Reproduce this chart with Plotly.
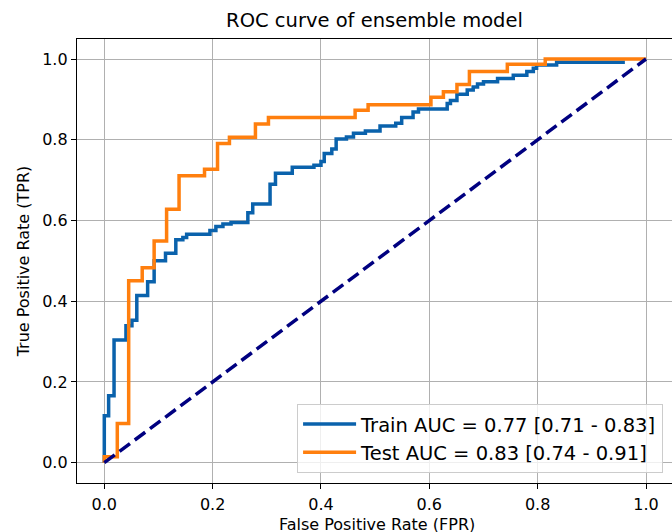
import plotly.graph_objects as go

# Train ROC (step corners: x where the rise happens, level after rise)
train_fpr = [0, 0, 0.008, 0.018, 0.040, 0.051, 0.060, 0.080, 0.092, 0.113, 0.132, 0.145,
             0.152, 0.195, 0.206, 0.219, 0.234, 0.265, 0.274, 0.306, 0.316, 0.347, 0.387,
             0.400, 0.406, 0.420, 0.428, 0.447, 0.460, 0.482, 0.509, 0.538, 0.549, 0.570,
             0.580, 0.633, 0.639, 0.651, 0.670, 0.681, 0.689, 0.700, 0.726, 0.755, 0.780,
             0.792, 0.798, 0.835, 0.961]
train_tpr = [0, 0.116, 0.166, 0.304, 0.339, 0.353, 0.414, 0.448, 0.500, 0.519, 0.552, 0.558,
             0.566, 0.575, 0.585, 0.591, 0.595, 0.619, 0.641, 0.690, 0.717, 0.732, 0.737,
             0.746, 0.766, 0.777, 0.802, 0.807, 0.816, 0.822, 0.834, 0.841, 0.855, 0.869,
             0.876, 0.890, 0.897, 0.913, 0.923, 0.931, 0.938, 0.944, 0.952, 0.960, 0.969,
             0.977, 0.985, 0.992, 0.992]

test_fpr = [0, 0, 0.024, 0.045, 0.070, 0.092, 0.115, 0.138, 0.185, 0.209, 0.231, 0.279,
            0.303, 0.463, 0.487, 0.603, 0.626, 0.651, 0.674, 0.744, 0.814, 1.0]
test_tpr = [0, 0.015, 0.097, 0.451, 0.483, 0.549, 0.628, 0.711, 0.727, 0.791, 0.806, 0.839,
            0.855, 0.873, 0.887, 0.905, 0.919, 0.937, 0.969, 0.987, 1.0, 1.0]

chance_x = [0, 1]
chance_y = [0, 1]

train_label = "Train AUC = 0.77 [0.71 - 0.83]"
test_label = "Test AUC = 0.83 [0.74 - 0.91]"
x_title = "False Positive Rate (FPR)"
y_title = "True Positive Rate (TPR)"
tick_vals = [0.0, 0.2, 0.4, 0.6, 0.8, 1.0]

FONT = "DejaVu Sans"

fig = go.Figure()
fig.add_trace(go.Scatter(x=train_fpr, y=train_tpr, mode="lines", line_shape="hv",
                         line=dict(color="#0a62ac", width=3.5), name=train_label,
                         legendgroup="a"))
fig.add_trace(go.Scatter(x=test_fpr, y=test_tpr, mode="lines", line_shape="hv",
                         line=dict(color="#ff7f0e", width=3.5), name=test_label,
                         legendgroup="b"))
fig.add_trace(go.Scatter(x=chance_x, y=chance_y, mode="lines",
                         line=dict(color="#000080", width=3.5, dash="13px,6px"),
                         showlegend=False))

fig.update_layout(
    width=672, height=532,
    margin=dict(l=77, r=0, t=39, b=49, autoexpand=False),
    paper_bgcolor="white", plot_bgcolor="white",
    font=dict(family=FONT, size=16, color="black"),
    title=dict(text="ROC curve of ensemble model", x=0.5, xref="paper", xanchor="center",
               y=1 - 20 / 532, yref="container", yanchor="middle",
               font=dict(family=FONT, size=19.5, color="black")),
    legend=dict(x=0.985, y=0.023, xanchor="right", yanchor="bottom",
                bgcolor="rgba(255,255,255,0.8)", bordercolor="#cccccc", borderwidth=1,
                font=dict(family=FONT, size=19.5, color="black"),
                itemwidth=53,
                traceorder="grouped", tracegroupgap=0),
)
# x-axis title placed as annotation, just below the tick labels (partly clipped like the original)
fig.add_annotation(text=x_title, xref="paper", yref="paper", x=0.5035, y=-41 / 444,
                   xanchor="center", yanchor="middle", showarrow=False,
                   font=dict(family=FONT, size=16, color="black"))
fig.update_xaxes(range=[-0.0504, 1.048], tickvals=tick_vals, tickformat=".1f",
                 automargin=False,
                 showgrid=True, gridcolor="#b0b0b0", gridwidth=1.3,
                 showline=True, linecolor="black", linewidth=1.3, mirror=True,
                 ticks="outside", ticklen=5, tickwidth=1.3, tickcolor="black",
                 zeroline=False, ticklabelstandoff=2)
fig.update_yaxes(range=[-0.0503, 1.0496], tickvals=tick_vals, tickformat=".1f",
                 automargin=False,
                 showgrid=True, gridcolor="#b0b0b0", gridwidth=1.3,
                 showline=True, linecolor="black", linewidth=1.3, mirror=False,
                 ticks="outside", ticklen=5, tickwidth=1.3, tickcolor="black",
                 zeroline=False,
                 title=dict(text=y_title, standoff=8,
                            font=dict(family=FONT, size=16)))

fig.write_html("out.html", config={"displayModeBar": False},
               post_script="document.body.style.margin='0';")
